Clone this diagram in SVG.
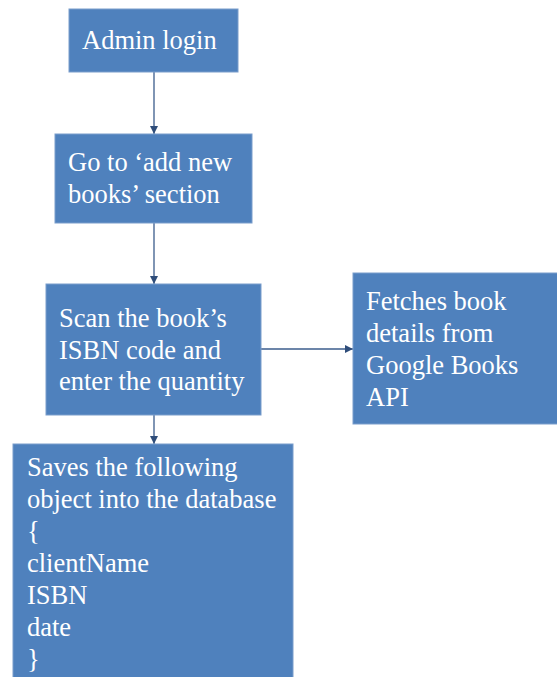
<svg xmlns="http://www.w3.org/2000/svg" width="557" height="677" viewBox="0 0 557 677">
  <style>
    .box { fill: #4F81BD; stroke: #7A9DCB; stroke-width: 1; }
    .lbl { fill: #FFFFFF; font-family: 'Liberation Serif', 'Times New Roman', serif; font-size: 26.5px; }
    .conn { stroke: #3B5C8C; stroke-width: 1.3; fill: none; marker-end: url(#arrow); }
  </style>
  <defs>
    <marker id="arrow" viewBox="0 0 10 10" refX="10" refY="5" markerWidth="8" markerHeight="8" markerUnits="userSpaceOnUse" orient="auto">
      <path d="M0,0 L10,5 L0,10 z" fill="#2F4D7A"/>
    </marker>
  </defs>

  <rect width="557" height="677" fill="#FFFFFF"/>

  <g id="connectors">
    <line class="conn" x1="154" y1="72" x2="154" y2="134"/>
    <line class="conn" x1="154" y1="223" x2="154" y2="284"/>
    <line class="conn" x1="261" y1="349" x2="353" y2="349"/>
    <line class="conn" x1="154" y1="415" x2="154" y2="444"/>
  </g>

  <g id="admin-login">
    <rect class="box" x="69" y="9" width="169" height="63"/>
    <text class="lbl" x="82" y="49">Admin login</text>
  </g>

  <g id="add-books-section">
    <rect class="box" x="55" y="134" width="197" height="89"/>
    <text class="lbl" x="68" y="171">Go to ‘add new</text>
    <text class="lbl" x="68" y="203">books’ section</text>
  </g>

  <g id="scan-isbn">
    <rect class="box" x="46" y="284" width="215" height="131"/>
    <text class="lbl" x="59" y="327">Scan the book’s</text>
    <text class="lbl" x="59" y="359">ISBN code and</text>
    <text class="lbl" x="59" y="390">enter the quantity</text>
  </g>

  <g id="fetch-details">
    <rect class="box" x="353" y="273" width="210" height="151"/>
    <text class="lbl" x="366" y="310">Fetches book</text>
    <text class="lbl" x="366" y="342">details from</text>
    <text class="lbl" x="366" y="374">Google Books</text>
    <text class="lbl" x="366" y="406">API</text>
  </g>

  <g id="save-object">
    <rect class="box" x="13" y="444" width="280" height="240"/>
    <text class="lbl" x="27" y="476">Saves the following</text>
    <text class="lbl" x="27" y="508">object into the database</text>
    <text class="lbl" x="27" y="540">{</text>
    <text class="lbl" x="27" y="572">clientName</text>
    <text class="lbl" x="27" y="604">ISBN</text>
    <text class="lbl" x="27" y="636">date</text>
    <text class="lbl" x="27" y="668">}</text>
  </g>
</svg>
